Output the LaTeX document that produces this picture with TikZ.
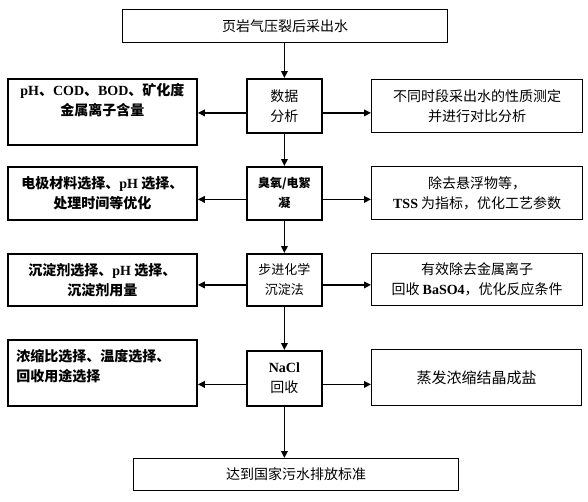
\documentclass[tikz,border=0pt]{standalone}
\usepackage{fontspec}
\setmainfont{Noto Sans CJK SC}
\newfontfamily\tms{Liberation Serif}
\usetikzlibrary{arrows.meta}
\newcommand{\lt}[1]{{\tms\bfseries #1}}
\tikzset{
  x=1pt, y=-1pt,
  every node/.style={inner sep=2pt, font=\fontsize{14}{20}\selectfont, align=center},
  thickbox/.style={draw, line width=1.8pt},
  thinbox/.style={draw, line width=1pt},
  rbox/.style={draw, line width=1.3pt},
  boldtxt/.style={font=\fontsize{14}{20}\selectfont\bfseries},
  arr/.style={line width=1.8pt, -{Triangle[length=7pt,width=6.5pt]}},
}
\newcommand{\boxat}[7]{%
  \pgfmathsetmacro{\bw}{#4-#2}\pgfmathsetmacro{\bh}{#5-#3}%
  \node[#6, anchor=north west, minimum width=\bw pt, minimum height=\bh pt] (#1) at (#2,#3) {#7};}
\begin{document}
\begin{tikzpicture}
\useasboundingbox (0,0) rectangle (588,501);
\boxat{top}{122}{9}{447}{42}{thinbox}{页岩气压裂后采出水}
\boxat{d1}{246}{78}{321}{132}{thickbox}{数据\\分析}
\boxat{l1}{7}{78}{196}{144}{thickbox,boldtxt}{\lt{pH}、\lt{COD}、\lt{BOD}、矿化度\\金属离子含量\\[4pt]}
\boxat{r1}{371}{79}{582}{132}{rbox}{不同时段采出水的性质测定\\并进行对比分析}
\boxat{d2}{246}{166}{321}{219}{thickbox,font=\fontsize{12}{20}\selectfont\bfseries}{臭氧/电絮\\凝}
\boxat{l2}{7}{166}{196}{219}{thickbox,boldtxt}{电极材料选择、\lt{pH} 选择、\\处理时间等优化}
\boxat{r2}{371}{166}{582}{219}{rbox}{除去悬浮物等，\\\lt{TSS} 为指标，优化工艺参数}
\boxat{d3}{246}{253}{321}{305}{thickbox,font=\fontsize{13}{20}\selectfont}{步进化学\\沉淀法}
\boxat{l3}{7}{253}{196}{305}{thickbox,boldtxt}{沉淀剂选择、\lt{pH} 选择、\\沉淀剂用量}
\boxat{r3}{371}{253}{582}{305}{rbox}{有效除去金属离子\\回收 \lt{BaSO4}，优化反应条件}
\boxat{d4}{246}{350}{321}{405}{thickbox}{\lt{NaCl}\\回收}
\boxat{l4}{7}{339}{196}{405}{thickbox,boldtxt}{\parbox{172pt}{\raggedright 浓缩比选择、温度选择、\\回收用途选择}\\[6pt]}
\boxat{r4}{371}{349}{581}{405}{rbox,font=\fontsize{15}{20}\selectfont}{蒸发浓缩结晶成盐}
\boxat{bot}{133}{458}{458}{490}{thinbox}{达到国家污水排放标准}
% vertical arrows
\draw[arr] (top.south -| d1.north) -- (d1.north);
\draw[arr] (d1.south) -- (d2.north);
\draw[arr] (d2.south) -- (d3.north);
\draw[arr] (d3.south) -- (d4.north);
\draw[arr] (d4.south) -- (d4.south |- bot.north);
% horizontal arrows
\foreach \m/\l/\r/\s in {d1/l1/r1/7, d2/l2/r2/6, d3/l3/r3/5, d4/l4/r4/6}{
  \draw[arr] ([yshift=-\s pt]\m.west) -- ([yshift=-\s pt]\m.west -| \l.east);
  \draw[arr] ([yshift=-\s pt]\m.east) -- ([yshift=-\s pt]\m.east -| \r.west);
}
\end{tikzpicture}
\end{document}
